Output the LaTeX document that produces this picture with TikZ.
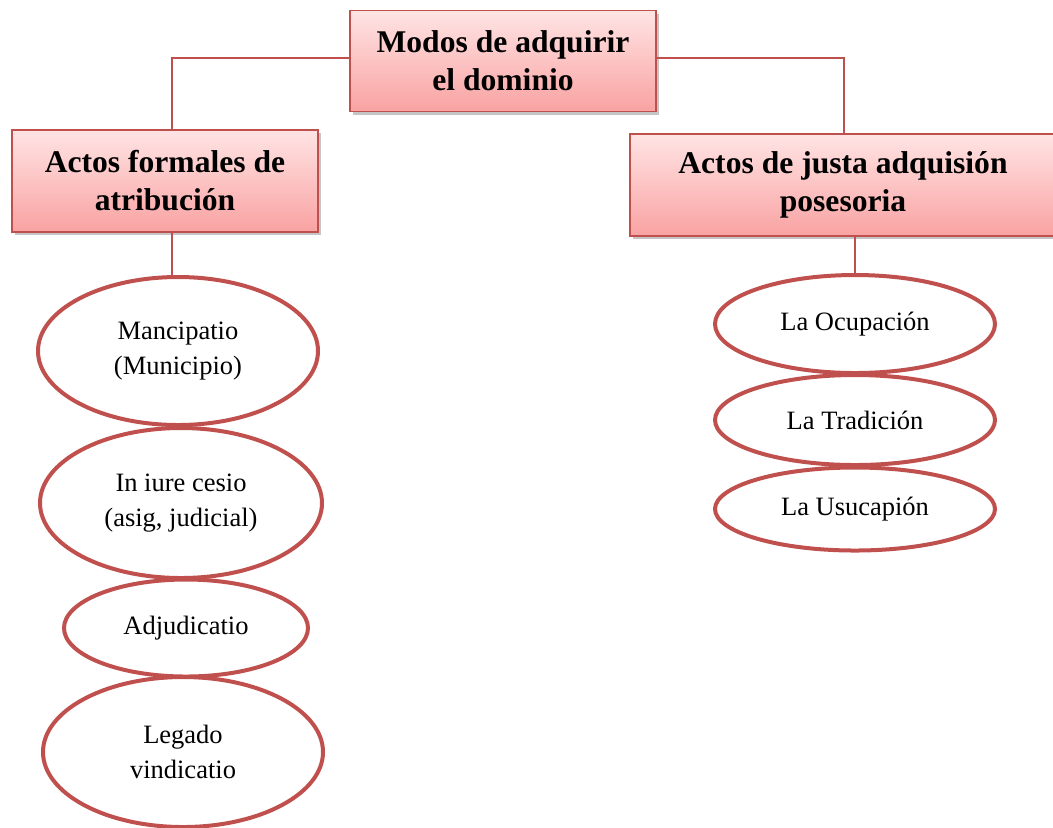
\documentclass[tikz,border=0pt]{standalone}
\usepackage{fontspec}
\setmainfont{Liberation Serif}
\usetikzlibrary{shapes.geometric}
\usetikzlibrary{shadows}
\usetikzlibrary{positioning}

\definecolor{edgered}{HTML}{C0504D}
\definecolor{pinktop}{HTML}{FFE4E4}
\definecolor{pinkbot}{HTML}{F9A2A2}

\begin{document}
\begin{tikzpicture}[x=0.5pt,y=-0.5pt,
  head/.style 2 args={rectangle, draw=edgered, line width=0.6pt, minimum width=#1, minimum height=#2,
    top color=pinktop, bottom color=pinkbot, align=center,
    drop shadow={shadow xshift=1.5pt, shadow yshift=-1.5pt, fill=black!45},
    font=\fontsize{15.8}{19}\selectfont\bfseries},
  item/.style 2 args={ellipse, draw=edgered, line width=2pt, fill=white, inner sep=0pt,
    minimum width=#1, minimum height=#2, align=center, font=\fontsize{13.25}{17.5}\selectfont},
  link/.style={draw=edgered, line width=1pt}]

  \useasboundingbox (0,0) rectangle (1053,827);

  %% links (behind)
  \coordinate (lcorner) at (172,58);
  \coordinate (rcorner) at (844,58);

  %% boxes
  \node[head={153pt}{50.5pt}] (modos) at (503,61) {Modos de adquirir\\el dominio};
  \node[head={153pt}{51pt}] (formales) at (165,181) {Actos formales de\\atribución};
  \node[head={213pt}{51pt}] (justa) at (843,185) {Actos de justa adquisión\\posesoria};

  %% left column
  \node[item={140pt}{74pt}] (manc) at (178,351) {Mancipatio\\(Municipio)};
  \node[item={141pt}{75pt}] (iure) at (181,503) {In iure cesio\\(asig, judicial)};
  \node[item={122pt}{48.5pt}] (adju) at (186,628) {Adjudicatio};
  \node[item={140pt}{75pt}] (lega) at (183,752) {Legado\\vindicatio};

  %% right column
  \foreach \n/\yy/\hh/\txt in {ocup/324/49pt/La Ocupación, trad/420/45pt/La Tradición, usuc/509/41.5pt/La Usucapión}
    \node[item={140pt}{\hh}] (\n) at (855,\yy) {\txt};

  %% connectors
  \draw[link] (modos.west |- lcorner) -- (lcorner) -- (lcorner |- formales.north);
  \draw[link] (modos.east |- rcorner) -- (rcorner) -- (rcorner |- justa.north);
  \draw[link] (lcorner |- formales.south) -- (lcorner |- manc.north);
  \draw[link] (ocup.north |- justa.south) -- (ocup.north);

\end{tikzpicture}
\end{document}
